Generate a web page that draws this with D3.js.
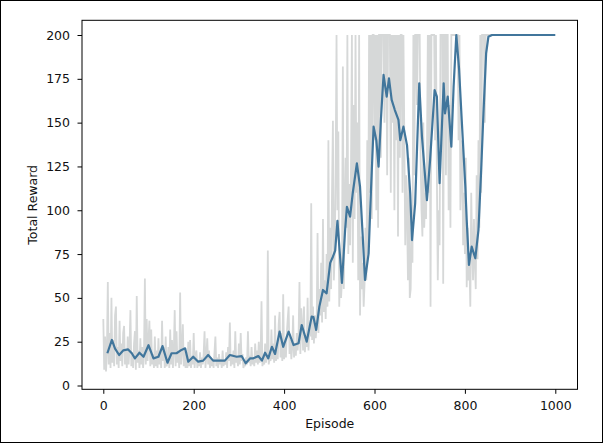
<!DOCTYPE html>
<html>
<head>
<meta charset="utf-8">
<script src="https://cdn.jsdelivr.net/npm/d3@7"></script>
<style>
  body { margin: 0; background: #fff; }
  text { font-family: "DejaVu Sans", sans-serif; }
</style>
</head>
<body>
<div id="canvas"></div>
<script>
// raw total reward, one value every 2 episodes (0..998)
const rawStep = 2;
const rawReward = [
  38,9,28,8,20, 59,12,30,10,50, 13,26,11,40,45, 12,22,10,37,14, 24,11,30,34,12,
  20,10,28,12,22, 43,11,19,10,24, 31,9,51,13,20, 10,27,12,22,10, 18,61,12,38,14,
  26,37,11,32,12, 18,10,28,11,20, 10,27,12,19,10, 37,14,22,10,28, 11,13,22,10,32,
  12,26,10,20,43, 11,31,13,19,10, 53,12,20,35,11, 21,10,18,10,25, 11,26,10,17,12,
  30,10,17,20,10, 14,11,19,10,16, 12,18,31,10,17, 27,12,20,10,16, 11,15,10,19,28,
  11,16,10,18,12, 15,10,20,11,14, 12,19,10,22,14, 36,11,18,12,20, 10,31,13,17,11,
  24,12,30,14,18, 10,13,11,16,12, 31,13,17,11,22, 12,15,11,24,13, 20,12,25,13,16,
  48,11,14,12,24, 13,18,77,12,16, 14,32,15,24,13, 40,14,20,15,35, 42,16,30,14,52,
  15,24,16,30,38, 45,18,26,15,22, 40,16,24,17,30, 20,28,59,18,44, 34,20,45,19,28,
  22,50,20,36,28, 104,26,45,24,40, 27,35,87,30,55, 40,70,36,95,42, 60,38,75,45,140,
  48,90,55,110,151, 60,75,120,200,100, 145,45,70,50,60, 182,55,100,130,90, 200,75,115,80,125,
  200,70,160,95,200, 110,150,60,200,40, 85,55,70,45,58, 90,60,140,75,200, 110,200,95,200,200,
  140,200,100,200,90, 200,200,130,200,200, 200,150,200,200,120, 200,200,200,110,200, 150,200,100,200,140,
  200,85,200,130,200, 200,110,200,140,80, 120,100,60,130,50, 55,90,70,200,120, 200,200,160,200,200,
  200,130,100,85,150, 90,110,95,130,200, 110,200,45,200,200, 200,200,140,200,120, 60,100,80,200,200,
  200,58,200,200,120, 200,200,100,160,90, 200,200,200,200,200, 200,200,200,140,200, 100,120,140,80,110,
  75,130,56,90,60, 70,45,110,80,60, 95,70,55,120,72, 140,90,200,110,200, 200,200,150,200,200,
  200,200,200,200,200, 200,200,200,200,200, 200,200,200,200,200, 200,200,200,200,200, 200,200,200,200,200,
  200,200,200,200,200, 200,200,200,200,200, 200,200,200,200,200, 200,200,200,200,200, 200,200,200,200,200,
  200,200,200,200,200, 200,200,200,200,200, 200,200,200,200,200, 200,200,200,200,200, 200,200,200,200,200
];

// smoothed reward
const smoothEpisode = [
  9,19,26,35,44,55,63,70,80,89,
  100,111,122,131,142,151,162,173,181,188,
  199,210,221,232,243,254,269,280,295,306,
  315,325,332,343,351,358,365,373,380,390,
  398,410,421,432,439,450,461,465,471,478,
  486,494,502,508,513,518,522,528,535,539,
  546,552,561,568,574,579,587,592,598,604,
  609,614,620,627,632,638,645,653,657,664,
  672,679,683,690,699,705,716,723,733,738,
  744,753,756,762,770,775,781,787,793,801,
  804,809,815,823,830,836,841,847,852,860,
  1000
];
const smoothReward = [
  18.4,26,21,17.4,20,20.6,18.4,15.5,18.7,16.4,
  23,15.5,16.4,22.5,13,18.4,18.4,20.3,21.2,13.6,
  16.4,13.6,14.2,17.4,14.2,14.2,14.2,17.4,16.4,16.8,
  12.7,15.5,15.5,16.8,14.2,18.7,15.5,22.1,18,30.7,
  22.1,30.7,23.1,24.1,34.5,25,39.3,39,31.7,45,
  54.5,52.6,70,73.5,77,94,80,58.5,88.7,102,
  96.3,110,126.8,113.4,85,60.2,75.4,110,147.7,140,
  124.9,151,177.2,164.8,175.3,163,157.2,151.5,140,147.7,
  137,109.7,83,104,172.4,142,105.8,128.7,168.6,164.8,
  115.4,172.4,155.3,164.8,136.3,170.5,200,181,151.5,113.4,
  94.4,68.8,79.2,72.6,88.7,123,155.3,189.6,199,200,
  200
];

const xTicks = [0, 200, 400, 600, 800, 1000];
const yTicks = [0, 25, 50, 75, 100, 125, 150, 175, 200];

const width = 603;
const height = 443;
const box = { left: 82, right: 577.5, top: 20.3, bottom: 389.3 };

const svg = d3.select("#canvas").append("svg")
    .attr("width", width)
    .attr("height", height);

svg.append("rect")
    .attr("x", 0.5).attr("y", 0.5)
    .attr("width", width - 1).attr("height", height - 1)
    .attr("fill", "#fff").attr("stroke", "#000");

const x = d3.scaleLinear().domain([0, 1000]).range([103.3, 555.3]);
const y = d3.scaleLinear().domain([0, 200]).range([385.5, 35]);

svg.append("clipPath").attr("id", "plot")
  .append("rect")
    .attr("x", box.left).attr("y", box.top)
    .attr("width", box.right - box.left).attr("height", box.bottom - box.top);

const plot = svg.append("g").attr("clip-path", "url(#plot)");

const rawLine = d3.line()
    .x((d, i) => x(i * rawStep))
    .y(d => y(d));

plot.append("path")
    .datum(rawReward)
    .attr("d", rawLine)
    .attr("fill", "none")
    .attr("stroke", "#d6d8d8")
    .attr("stroke-width", 1.8);

const smoothLine = d3.line()
    .x((d, i) => x(smoothEpisode[i]))
    .y(d => y(d));

plot.append("path")
    .datum(smoothReward)
    .attr("d", smoothLine)
    .attr("fill", "none")
    .attr("stroke", "#41769c")
    .attr("stroke-width", 2.2)
    .attr("stroke-linejoin", "round");

// axes
const xAxis = svg.append("g")
    .attr("transform", `translate(0,${box.bottom})`)
    .call(d3.axisBottom(x).tickValues(xTicks).tickSize(4.5).tickPadding(7.6).tickFormat(d3.format("d")));

const yAxis = svg.append("g")
    .attr("transform", `translate(${box.left},0)`)
    .call(d3.axisLeft(y).tickValues(yTicks).tickSize(4.5).tickPadding(7.5).tickFormat(d3.format("d")));

[xAxis, yAxis].forEach(a => {
    a.select(".domain").remove();
    a.selectAll("text").attr("font-size", 12.5).attr("fill", "#111")
        .style("font-family", "'DejaVu Sans', sans-serif");
    a.selectAll("line").attr("stroke", "#000");
});

svg.append("rect")
    .attr("x", box.left).attr("y", box.top)
    .attr("width", box.right - box.left).attr("height", box.bottom - box.top)
    .attr("fill", "none").attr("stroke", "#000").attr("stroke-width", 1);

svg.append("text")
    .attr("x", (box.left + box.right) / 2)
    .attr("y", 428)
    .attr("text-anchor", "middle")
    .attr("font-size", 12.5)
    .attr("fill", "#111")
    .text("Episode");

svg.append("text")
    .attr("transform", `translate(36.5,${(box.top + box.bottom) / 2}) rotate(-90)`)
    .attr("text-anchor", "middle")
    .attr("font-size", 12.5)
    .attr("fill", "#111")
    .text("Total Reward");
</script>
</body>
</html>
